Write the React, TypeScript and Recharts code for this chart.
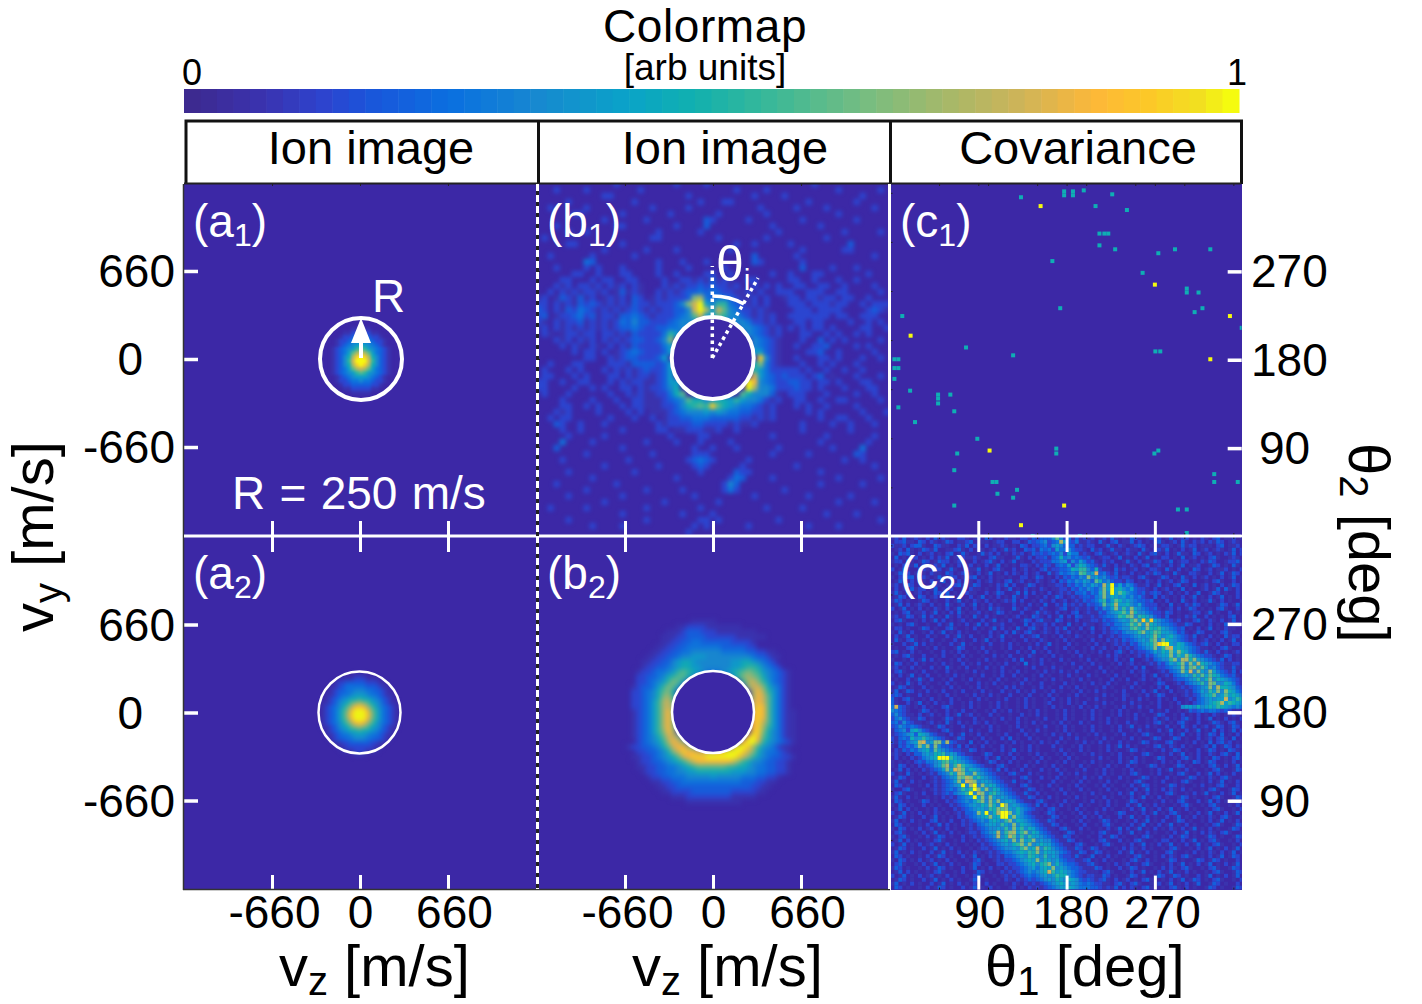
import React from "react";
import { BarChart, Bar, ScatterChart, Scatter, XAxis, YAxis } from "recharts";

const W = 1422;
const H = 1004;
const FONT = "'Liberation Sans', Arial, sans-serif";
const PANEL_BG = "#3c28a6";

// colormap
const CMAP_POS = [0, 0.07, 0.13, 0.17, 0.25, 0.33, 0.42, 0.48, 0.55, 0.65, 0.73, 0.8, 0.87, 0.92, 0.97, 1];
const CMAP_HEX = ["#3d2a90", "#3a33b0", "#2c45d0", "#1a55da", "#0a70e0", "#1788d0", "#0aa3c8", "#10b0b0", "#35b89a", "#78bd80", "#a8b868", "#d0b458", "#fdb838", "#fcc828", "#f2e020", "#f5fb0f"];
const BAR_LEVELS = Array.from({ length: 64 }, (_, i) => i / 63);

const VEL_TICKS = [-660, 0, 660];
const ANGLE_MAJOR = [90, 180, 270];
const ANGLE_MINOR = [50, 100, 150, 200, 250, 300, 350];

// grids below hold one hex digit per cell, 0..f is 0..1 on the colour bar
const A1_ROWS = [
  "00000011111000000",
  "00001122222110000",
  "00012233333221000",
  "00122344544322100",
  "00123456665432100",
  "01234568986543210",
  "0123469bcb9643210",
  "012357bef eb7532 10",
  "012358cfffc853210",
  "012357befeb753210",
  "0123469bcb9643210",
  "01234568986543210",
  "00123456665432100",
  "00122344544322100",
  "00012233333221000",
  "00001122222110000",
  "00000011111000000",
];

const A2_ROWS = [
  "000000000111000000000",
  "000000111222111000000",
  "000012233333222110000",
  "000112344444333211000",
  "000123344555443321000",
  "001123445666544321100",
  "001234567787765432100",
  "01123567 9ab a9765321 10",
  "0123457 9bdedb97543210",
  "012346 8adfffda8643210",
  "012346 8befffeb8643210",
  "012346 8adfffda8643210",
  "0123457 9bdedb97543210",
  "011235679aba976532110",
  "001234567787765432100",
  "001123445666544321100",
  "000123344555443321000",
  "000011223333322110000",
  "000001122222221100000",
  "000000111222111000000",
  "000000000111000000000",
];

const B1_ROWS = [
  "00000000000002000000000200002000000000000000002000000000000",
  "00020000200000000200000000000000020000200000000000200000020",
  "00000000000220000000000002000000000020000200000000000020000",
  "00000200000000002000000000020002200000000000020000000200000",
  "00200000200000000002000002000000000002000002000020000000200",
  "00000022000000200000002000000020000000200000000000200000000",
  "00000000000200000020000000003200000200000000200000000200000",
  "00020000000002200000000200003000000000020000000200000000000",
  "00000200200000000000200000020000000000002000000000020000020",
  "02000000000000000002200000000020000000200000000020000000000",
  "00000220000000200000000000000000020020000020000000003000000",
  "00000000000200000020000200000000200000000000200000022000000",
  "00200000020000002000000000000000000030000002000000000000200",
  "00000000430000000000200020002000000032000000200000000000000",
  "00020000202000200000" + "20000200000200000000" + "0000300002000200000",
  "00000022002000220000" + "20020000220020000002" + "0020002200000002000",
  "000022000202200220" + "00020022121312100220000" + "022002000200200000",
  "000212022120212021" + "00021212232322120020202" + "002200220020000200",
  "002021212212013121" + "00212123343432211202002" + "220022200220000020",
  "120132131201212032" + "01212223ab4344321120200" + "122022122022002000",
  "220212132321212132" + "2122235acf6588432120200" + "022202221220020222",
  "320213243212121232" + "1212233 5cfb6c95422121 00" + "002220222200002321",
  "230122342312213343" + "2122234 59c6698553212120" + "022222220220022200",
  "210212231212124353" + "32223455543033455422120" + "002202200002002020",
  "120212121212123343" + "22334454 00000000 5543212" + "020202202000022002",
  "021012212202212132" + "222486" + "00000000000" + "543212" + "000220020200202000",
  "000212021202121233" + "2235a" + "0000000000000" + "54321" + "000200302020000020",
  "000020210210202132" + "22246" + "0000000000000" + "54321" + "002002230000202000",
  "000000202202012343" + "22236" + "0000000000000" + "66321" + "000022300200000200",
  "000000002200212332" + "2236" + "000000000000000" + "e521" + "002000220200020020",
  "002000220000222133" + "33236" + "0000000000000" + "7a421" + "000200202000200000",
  "020002020002021212" + "32236" + "0000000000000" + "86422" + "222020020020020000",
  "022000202000220212" + "21236" + "0000000000000" + "c6432" + "322202301000200020",
  "220020022000202122" + "112366" + "00000000000" + "fd5432" + "233220220200022000",
  "220000200202002202" + "122357" + "00000000000" + "fb5542" + "223220200020002200",
  "020002000000200212" + "1122479" + "000000000" + "9755531" + "022200020000200200",
  "000020000200020022" + "11123459775677686554212" + "002200200220000020",
  "000022002020002022" + "11122357898e976544321 2" + "000202002000020000",
  "000212000020000202" + "01112345556565443322120" + "000020200000020002",
  "002022000000200020" + "02012233444333332212120" + "000000200220002000",
  "000320020002000000" + "00212222332222121120000" + "000200002002000200",
  "00002002000000200000" + "2201122211200200000000" + "00200000002000000",
  "00000200000200000000" + "0020000220000000000200" + "00000020000000200",
  "00004000020000000020" + "0002000200002000000000" + "00000200000002000",
  "00030000000000200000" + "0000002002000200000020" + "00000002000040000",
  "00000000200000000002" + "0000002220000000000200" + "00020000000320000",
  "00002000000000020000" + "0000023432000002000000" + "00000000020020000",
  "00000000000200000000" + "2000002320000020000000" + "02000000000000200",
  "00000200000000002000" + "0000000200000322000000" + "00000200000000000",
  "00000000020000000000" + "0002000000002430000200" + "00000000200000020",
  "00020000000002000000" + "0000000000025300000000" + "00000200000020000",
  "00000000200000000020" + "0000200000024200000002" + "00000000000000000",
  "00000200000000200000" + "0000002000000000200000" + "00020000002000000",
  "00000000000200000000" + "0200000000200000000000" + "00000000200000200",
  "00200000200000000020" + "0000000200000000002000" + "00200000000000000",
  "00000000000000200000" + "0000200002000000000000" + "00000020000200000",
  "00000200000000000020" + "0000000220200000000020" + "00000000000000020",
  "00000000020000200000" + "0000002020000002000000" + "00020000200000000",
  "00000000000000000000" + "0000020000000000000000" + "00000000000000000",
];

const B2_ROWS = [
  "0",
  "000000000000000" + "11111",
  "000000000000" + "1122221111111",
  "0000000000" + "111233322211111111",
  "000000000" + "111223333222222111111",
  "000000000" + "1122334433333322221",
  "00000000" + "11223344444443333322",
  "0000000" + "1122334455555544444332211",
  "000000" + "112233455666555555555433211",
  "00000" + "112233567765555555667765432",
  "00000" + "1223345677665555556678875432",
  "0000" + "12234456898765444567" + "89a98654" + "321",
  "0000" + "223345789975" + "0000000" + "68aba9754321",
  "0000" + "2234568a96" + "00000000000" + "8bca864321",
  "000" + "1233468a96" + "0000000000000" + "acca75421",
  "000" + "2234579a7" + "000000000000000" + "bdb86421",
  "000" + "223457ab8" + "000000000000000" + "bdc96421",
  "000" + "223468bc9" + "000000000000000" + "cdc96421",
  "000" + "223468bca" + "000000000000000" + "ced96421",
  "000" + "123468bda" + "000000000000000" + "ded964211",
  "000" + "123468bda" + "000000000000000" + "ded964211",
  "000" + "123468bda" + "000000000000000" + "dec964211",
  "000" + "123468bda" + "000000000000000" + "deb864211",
  "000" + "123468adb" + "000000000000000" + "eea754211",
  "000" + "1234579cca" + "0000000000000" + "dfd9754211",
  "0000" + "234568bdca" + "00000000000" + "dffc8654321",
  "00" + "12233457" + "9cddb9" + "0000000" + "cffeb86542110",
  "0000" + "2233457aceddccccdefffeca7544321",
  "000" + "1122345679cdeeeffffffeca865433221",
  "0000" + "1223345678acdddddddca8755433221",
  "0000" + "1122334456789999998877654433221",
  "00000" + "122334455667777777666554433221",
  "000000" + "122334445555565555544433221",
  "0000000" + "1122334444444444443332211",
  "00000000" + "11223333333333333332211",
  "000000000" + "112222333333332222211",
  "00000000000" + "11122222222211111",
  "00000000000000" + "11111111111",
  "0",
];

const C2_ROWS = [
  "1203012102 0312100221 0130320102 1102213233 3595241312 1201203101 0321012320 1301220102 1023011201",
  "0223110320 2101320112 3001101220 0220132345 234b632411 2103102301 1302010231 0120310212 0213201210",
  "2112023310 0321100213 0210201121 0103202234 2565333121 2200131021 0123201012 2101312201 1102301120",
  "0120310132 1300112310 2021012013 1200323143 4264453221 0312013110 2110310221 3010201301 2012101302",
  "1032310201 2010230131 0013120201 0212013232 3435264412 1023101201 2103102310 2013110320 1201021302",
  "0301022010 2021301121 1210023110 0131020223 1347453432 3101220130 1020130102 2010301201 0231001210",
  "1220310132 0132201210 0201231020 1301002122 2445625364 2310212001 3102011320 1301220102 1320012231",
  "0102213020 1213010201 2010201301 0102210213 2134362576 4321310201 0210230121 0201301120 0132010310",
  "2013100221 0320131002 1130102310 0201201023 1223347688 5372110312 0120102210 3102010320 1201120102",
  "0132201310 2110320120 1020130102 0210201200 3124345498 56c3421301 0201021320 1031002210 0201301320",
  "1020330221 0131132010 2301020110 1002201320 1021324354 a564532312 2102310013 2010310201 2010201301",
  "0131020210 2013010201 1020120102 3012010210 1203243546 5397453221 3201021020 1201320100 1023100201",
  "1201320100 0210102310 1320010213 0200132010 1122132435 4654b6f463 5421120130 1023010301 2010201320",
  "0201031220 1301020010 2110100201 3010201021 0112213243 5435a6f675 4632210201 2010301001 2013031020",
  "1310201201 0320301002 1100201320 0130302010 2012121334 2436a5f697 5432312320 1201020130 0132010020",
  "0132010320 1201320100 2013010201 0310200102 0132012123 3245a57656 4534210302 1010201301 0201301020",
  "1320100132 0100201301 0210201012 1302001021 0201201213 2346846975 6543323010 2010310201 1310201001",
  "0130201210 2010310120 1301020100 0201020103 0021312121 3234957b66 7546322201 0301021320 1001320130",
  "2013010201 0210201301 0201031210 0310210021 0012301211 2132546a58 5a65432310 1202013201 0102310020",
  "0102301120 1301020310 1120101320 1002001312 1020102301 2113245679 6b75543221 3201001220 1301002010",
  "1201320130 2010310201 0310201001 0120103210 2013020321 1212344587 9a58765321 3001021300 2010102301",
  "0231001020 1302010120 1002013010 2001320231 1032010201 1221323456 58a6e7e654 3212010231 0210201301",
  "1010231001 0020130102 0130201120 0100302112 0201030102 1101232445 697a6b7654 4321132001 0201031220",
  "0220100132 0100231001 0201013020 1031023102 1021301020 1301213345 58976a7786 5432301020 1301021100",
  "1031020010 2013010201 0010020102 0310231012 1020120101 0200212324 5568a67986 6542310132 0010231001",
  "0201301002 0100201310 2001020130 1002012301 0102010210 1102012123 3456567a75 6754321301 0201031220",
  "0310231010 2001002010 0201301020 0100201021 0010201001 0201021213 2345658a5a 7654321201 2010201301",
  "1002013020 1010020130 1001020010 2010010201 3010020100 1020101212 1324567aef f657643212 3102010220",
  "0100231001 0201001320 0102010010 2001020102 0010201001 0201201021 2123456a58 bc67654321 1010231001",
  "2301020100 1002010201 0010201001 0020103010 2010010201 0102010231 0212234657 6a6a764321 3102010120",
  "0102310020 0102001020 1001002010 2001021001 0201001020 1001020210 1012132456 6a586a7543 2210132010",
  "1001020130 2010010201 0010201001 0203001020 1002010010 2010010201 0300121345 58a5bb7a65 4321302010",
  "0320102010 0102010020 1020010102 0010401020 0100102001 0201001020 1201012132 4657a5a6b7 6543211220",
  "1201020100 2010310102 0010201020 0100102001 0201001020 1002010100 1020300122 3456a59a69 6453211310",
  "0231001020 0100201001 0201001020 1020100102 0102010201 0010201001 0201210012 1345a6c5a6 5a64321302",
  "1020130102 0010102010 0102001020 0201001020 1001020100 2010010201 0010201301 2134565869 6976432310",
  "0100201310 2001020010 2010010201 0010201001 0201001020 1001002010 2001201020 1123345685 7a57654321",
  "2010310201 0010201001 0020102010 0102010020 0100201001 0201020100 1020100132 0012134568 5a95576421",
  "0132010020 1001020100 1020100102 0201001020 1002010201 0010201001 0201001020 3001212345 6a5b776532",
  "1301320102 0102001020 0102010020 1020102001 0201001020 1020100102 0010201301 0201121346 586a5a7643",
  "2320100201 0010201001 0201020100 2001020010 2010010201 0010201002 1001020132 0010121235 6795696765",
  "3102310010 2010020100 1020100102 0010201001 0201020100 1020100102 0102010020 1020012134 56566c5687",
  "3100201301 0201020010 2010010201 0010201001 2001020102 0010201001 0201001020 0102010234 5678b68766",
  "4c32101020 1002310010 2010010201 0010201001 0201001020 1020100102 0102010020 0101566575 6768765454",
  "5432100132 0100201020 0100102010 2010010201 0010201001 0201001020 1001002010 2001013234 3443232110",
  "3532110201 2010201301 2010020100 1002010201 0010201001 0201001020 1020100132 0010201020 1021011210",
  "2453211320 1001320100 0201001020 1020100102 0010201001 0201020100 1020010201 2010231020 1301020102",
  "3425321101 2010310201 0210201001 0020102010 0102010020 1001020100 2010010231 0102310020 0132102310",
  "2354343211 0132010020 1001020100 1020100102 0010201001 0201001020 1301020100 2010310201 2013201320",
  "1345267532 1102310010 2010020100 1002010201 0010201001 0201001020 0102010020 1301020130 1030201302",
  "1234563765 3211020130 1020100102 0010201001 0201020100 1020100102 0010231001 0201301020 1320301020",
  "2134375686 5432101320 0102010020 3010020100 1002010201 0010201001 0201001320 0132010020 1202310301",
  "2132456bc5 6aa4b32110 3010201001 0201001020 1020100102 0102010020 1001320100 2310010201 0302312010",
  "1032435a6a 4a53321302 0102010020 1001020100 0201001020 1001020130 2010010231 0210201001 2030132021",
  "0213243567 4965432211 3201001020 1301020100 0102010020 1001020100 1320100102 0132010020 1320103210",
  "1210213356 5778565321 1001320010 2010010201 0010201001 0201001020 0100231001 0201301020 0210231030",
  "0201021245 67fff86543 2110201301 0201001020 1001020100 0102010020 1020100132 0010231020 1032010231",
  "1010102324 4568967654 3210132010 2010010201 0010201001 0201001020 1320100102 0102010320 1320010201",
  "1032010212 3569b58b86 5432110231 0010201001 0201001020 1001020100 2010013201 0013201001 0231020130",
  "0130201021 2346a6cb95 7654321302 0102010020 1020100102 0010201001 0201001020 1301020100 1023100132",
  "2010310101 2134586ba6 5a65432110 2310020100 1002010201 0010201001 0231001020 0102310020 1302010201",
  "0132010020 1213456a9b a686543211 0102310020 1020100102 0102010020 1001320100 2010013201 0210231001",
  "1301020100 1212346a5c ba56654321 1301020100 0201001020 1001020100 1023100102 0010231001 0201301020",
  "0320100102 02123456f5 bf5a676432 1102310010 2010010201 0010201001 0201320100 1320100102 0102310020",
  "1002310010 1212343586 8fa6a57643 2110132010 0102010020 1001020100 1020130102 0210201001 0231001320",
  "0231001020 0212324568 f5ba578654 3211310201 0010201001 0201001020 1301020100 2310010201 3010201301",
  "1310201001 0102121345 6f6a5a6565 4321132010 2010010201 0010201001 0201301020 1001320100 1023100132",
  "0320100132 0100212345 468a5a6a56 6532110231 0010201001 0201020100 1320100102 0102310020 1302010201",
  "1032010020 1010021234 56576a75fa 5654321302 0102010020 1001020100 2013010201 0010231001 0231001020",
  "0130201001 0201002123 4566587a9a 6575432110 2310010201 0010201001 0201301020 1301020100 1023100102",
  "2013010201 0210101213 34a6f57bff a575321101 3201001020 1020100132 0010201301 0231001020 1301020130",
  "0132010020 1301010212 34567a67ff 6a65432110 1320100102 0102010020 1301020100 2013010201 0210231001",
  "1301020100 2301020021 2345467658 a576543211 3201001020 1001320100 1020130102 0013201001 0201301020",
  "0320100102 0130201021 2134566586 5a57654321 1320100102 0010231001 0201301020 1301020100 1023100132",
  "1032010201 2010201001 2123455658 5a68576432 1102310020 1001020130 2013010201 0210201301 0201001320",
  "0231001020 1301020101 2213456b58 ab68a57643 2110132010 0102310020 1301020100 1020130102 0210231001",
  "1023100102 0132010020 1212345b57 b958586654 3211320100 1002013201 0010231001 0201320100 1320100132",
  "0130201001 0231001020 1021234567 5a5a67a565 5321132010 0102310020 1023100102 2010201301 0231001020",
  "2013010201 2010201001 0102123456 578a6a5676 6432110231 0010231001 0201301020 1301020130 1023100102",
  "0132010020 1301020100 1012212345 5658a67b58 7543211320 1320100102 0210201001 0231001020 1301020130",
  "1301020100 2013010201 0210121234 4567687a57 6654321132 0132010020 1301020100 2310010201 0210201301",
  "0320100102 0132010020 1301021213 3456587658 5653221310 1301020100 1023100102 0210231001 0201301320",
  "1032010201 2010201001 0231001212 2345676a57 6564322112 3010201001 0231020100 1320100132 0132010020",
  "0231001020 1301020100 1320100221 2234567578 a575433211 2310010201 2010231001 0201301020 1301020130",
  "1320100102 0132010020 1301020102 1223456467 6a56543321 1132010020 1320100102 0210231001 0231001320",
  "0130201001 0231001020 0132010021 2123454567 c867654322 1110231001 0201301020 1301020100 1023100132",
  "2013010201 2010201001 0231001012 1212343456 5687754321 2211320100 1320100132 0132010020 1301020130",
  "0132010020 1301020100 1320100102 1021232345 6576576532 3212310201 2010231001 0201301320 1023100102",
  "1301020100 2013010201 0210201001 0210212123 4567656543 4322110231 0231001020 1301020130 0132010020",
  "0320100102 0132010020 1301020100 1201021212 3456676544 4332121302 0210231001 0231020100 1320100132",
];

// sparse covariance events, one list per colour
const C1_TEAL_T1 = [133, 177, 177, 186, 186, 197, 209, 226, 241, 213, 218, 222, 213, 229, 273, 290, 326, 165, 257, 302, 302, 314, 318, 310, 173, 12, 77, 125, 358, 270, 275, 4, 8, 4, 8, 4, 20, 48.5, 48.5, 48.5, 61, 65, 8, 25, 88.5, 68, 169, 169, 273, 269, 65, 104, 108, 109, 129, 125, 65, 330, 330, 354, 293, 302, 302, 145, 193];
const C1_TEAL_T2 = [346, 352, 348, 352, 348, 353, 337, 349, 333, 309, 309, 309, 297, 293, 289, 293, 293, 281, 269, 253, 249, 249, 233, 229, 233, 225, 193, 185, 213, 189, 189, 181, 181, 172, 172, 161, 149, 145, 141, 136, 145, 128, 132, 117, 100, 85, 90, 85, 88, 85, 68, 56, 56, 44, 48, 40, 32, 64, 56, 56, 28, 28, 4, 1, 1];
const C1_PEAK_T1 = [153, 269.5, 346, 20.5, 326, 101, 177, 133];
const C1_PEAK_T2 = [337, 257, 225, 205, 181, 88, 32, 12];

const toCells = (rows: string[], x0: number, y0: number, step: number) => {
  const out: { x: number; y: number; v: number }[] = [];
  rows.forEach((row, r) => {
    const clean = row.replace(/ /g, "");
    for (let c = 0; c < clean.length; c++) {
      const d = parseInt(clean[c], 16);
      if (d > 0) out.push({ x: x0 + c * step, y: y0 - r * step, v: d / 15 });
    }
  });
  return out;
};

const c1Cells = [
  ...C1_TEAL_T1.map((x, i) => ({ x, y: C1_TEAL_T2[i], v: 0.47 })),
  ...C1_PEAK_T1.map((x, i) => ({ x, y: C1_PEAK_T2[i], v: 1 })),
];

const hexToRgb = (h: string) => [1, 3, 5].map((i) => parseInt(h.slice(i, i + 2), 16));
const colorOf = (v: number) => {
  let i = 0;
  while (i < CMAP_POS.length - 2 && v > CMAP_POS[i + 1]) i++;
  const t = Math.min(1, (v - CMAP_POS[i]) / (CMAP_POS[i + 1] - CMAP_POS[i]));
  const a = hexToRgb(CMAP_HEX[i]);
  const b = hexToRgb(CMAP_HEX[i + 1]);
  return `rgb(${a.map((n, k) => Math.round(n + (b[k] - n) * t)).join(",")})`;
};

interface Box {
  l: number;
  r: number;
  t: number;
  b: number;
}

interface PanelProps {
  box: Box;
  xDomain: number[];
  yDomain: number[];
  cells: { x: number; y: number; v: number }[];
  cellW: number;
  cellH: number;
  blur?: number;
  xMajor: number[];
  yMajor: number[];
  minor?: number[];
  xLabels?: boolean;
  topWhite?: boolean;
  side: "left" | "right" | "none";
  sideLabels?: boolean;
}

const X_LABEL_DX: Record<number, number> = { [-660]: 2, 0: 0, 660: 6, 90: 1, 180: 4, 270: 7 };

const HeatPanel = (p: PanelProps) => {
  const { box } = p;
  const xTicks = [...p.xMajor, ...(p.minor || [])];
  const yTicks = [...p.yMajor, ...(p.minor || [])];

  const renderXTick = (t: any) => {
    const v = t.payload.value;
    const major = p.xMajor.includes(v);
    return (
      <g key={`x-${v}`}>
        {major ? (
          <line x1={t.x} x2={t.x} y1={box.b} y2={box.b - 14} stroke="#fff" strokeWidth={3} />
        ) : (
          <line x1={t.x} x2={t.x} y1={box.b} y2={box.b - 2} stroke="#222" strokeWidth={1} />
        )}
        {major && p.topWhite ? (
          <line x1={t.x} x2={t.x} y1={box.t} y2={box.t + 15} stroke="#fff" strokeWidth={3} />
        ) : (
          <line x1={t.x} x2={t.x} y1={box.t} y2={box.t + 2} stroke="#222" strokeWidth={1} />
        )}
        {major && p.xLabels && (
          <text x={t.x + (X_LABEL_DX[v] || 0)} y={928} textAnchor="middle" fontSize={46} fontFamily={FONT} fill="#000">
            {v}
          </text>
        )}
      </g>
    );
  };

  const renderYTick = (t: any) => {
    const v = t.payload.value;
    const major = p.yMajor.includes(v);
    const edge = p.side === "right" ? box.r : box.l;
    const dir = p.side === "right" ? -1 : 1;
    return (
      <g key={`y-${v}`}>
        {major && p.side !== "none" ? (
          <line x1={edge} x2={edge + dir * 14} y1={t.y} y2={t.y} stroke="#fff" strokeWidth={3.5} />
        ) : (
          <line x1={box.l} x2={box.l + 2} y1={t.y} y2={t.y} stroke="#222" strokeWidth={1} />
        )}
        {major && p.sideLabels && p.side === "left" && (
          <text x={v === 0 ? 143 : 175} y={t.y + 15.5} textAnchor="end" fontSize={46} fontFamily={FONT} fill="#000">
            {v}
          </text>
        )}
        {major && p.sideLabels && p.side === "right" && (
          <text x={v === 90 ? 1259 : 1251} y={t.y + 15.5} textAnchor="start" fontSize={46} fontFamily={FONT} fill="#000">
            {v}
          </text>
        )}
      </g>
    );
  };

  return (
    <div className={p.blur ? `soft${p.blur * 10}` : undefined} style={{ position: "absolute", left: 0, top: 0 }}>
      <ScatterChart
        width={W}
        height={H}
        margin={{ left: box.l - 1, right: W - box.r, top: box.t, bottom: H - box.b - 1 }}
      >
        <Scatter
          data={p.cells}
          isAnimationActive={false}
          shape={(s: any) => (
            <rect
              x={s.cx - p.cellW / 2}
              y={s.cy - p.cellH / 2}
              width={p.cellW}
              height={p.cellH}
              fill={colorOf(s.payload ? s.payload.v : s.v)}
            />
          )}
        />
        <XAxis
          type="number"
          dataKey="x"
          domain={p.xDomain}
          ticks={xTicks}
          interval={0}
          height={1}
          axisLine={false}
          tickLine={false}
          allowDataOverflow
          tick={renderXTick}
        />
        <YAxis
          type="number"
          dataKey="y"
          domain={p.yDomain}
          ticks={yTicks}
          interval={0}
          width={1}
          axisLine={false}
          tickLine={false}
          allowDataOverflow
          tick={renderYTick}
        />
      </ScatterChart>
    </div>
  );
};

const BOXES: Record<string, Box> = {
  a1: { l: 184, r: 537, t: 184, b: 535 },
  b1: { l: 538, r: 889, t: 184, b: 535 },
  c1: { l: 890.5, r: 1241.7, t: 184, b: 535 },
  a2: { l: 184, r: 537, t: 537, b: 889 },
  b2: { l: 538, r: 889, t: 537, b: 889 },
  c2: { l: 890.5, r: 1241.7, t: 537, b: 889.6 },
};

const PanelLabel = ({ x, y, name, sub }: { x: number; y: number; name: string; sub: string }) => (
  <text x={x} y={y} fontSize={46} fill="#fff" fontFamily={FONT}>
    ({name}
    <tspan fontSize={32} dy={9}>
      {sub}
    </tspan>
    <tspan dy={-9}>)</tspan>
  </text>
);

const Overlay = () => (
  <svg width={W} height={H} style={{ position: "absolute", left: 0, top: 0 }}>
    {/* colour bar labels */}
    <text x={705} y={42} textAnchor="middle" fontSize={46} letterSpacing={0.6} fontFamily={FONT}>Colormap</text>
    <text x={705} y={80} textAnchor="middle" fontSize={37} fontFamily={FONT}>[arb units]</text>
    <text x={182} y={85} fontSize={36} fontFamily={FONT}>0</text>
    <text x={1227} y={85} fontSize={36} fontFamily={FONT}>1</text>

    {/* title strip */}
    <text x={371} y={164} textAnchor="middle" fontSize={47} fontFamily={FONT}>Ion image</text>
    <text x={725} y={164} textAnchor="middle" fontSize={47} fontFamily={FONT}>Ion image</text>
    <text x={1078} y={164} textAnchor="middle" fontSize={47} fontFamily={FONT}>Covariance</text>
    <path d="M186 184 V121 H1241.5 V184 M538.5 121 V184 M890.5 121 V184" fill="none" stroke="#111" strokeWidth={3} />
    <line x1={184} x2={1241} y1={183.5} y2={183.5} stroke="#222" strokeWidth={2} />

    {/* frame and dividers */}
    <line x1={183.5} x2={183.5} y1={184} y2={890} stroke="#333" strokeWidth={1.5} />
    <line x1={183} x2={890} y1={889.5} y2={889.5} stroke="#333" strokeWidth={1.5} />
    <line x1={184} x2={1241.7} y1={536} y2={536} stroke="#fff" strokeWidth={3} />
    <line x1={889.5} x2={889.5} y1={184} y2={889} stroke="#fff" strokeWidth={3} />
    <line x1={537.5} x2={537.5} y1={184} y2={889} stroke="#222" strokeWidth={3} />
    <line x1={537.5} x2={537.5} y1={184} y2={889} stroke="#fff" strokeWidth={3} strokeDasharray="7 4" />

    <PanelLabel x={193} y={237} name="a" sub="1" />
    <PanelLabel x={547} y={237} name="b" sub="1" />
    <PanelLabel x={900} y={237} name="c" sub="1" />
    <PanelLabel x={193} y={589} name="a" sub="2" />
    <PanelLabel x={547} y={589} name="b" sub="2" />
    <PanelLabel x={900} y={589} name="c" sub="2" />

    {/* a1 circle and R arrow */}
    <circle cx={361} cy={359} r={41} fill="none" stroke="#fff" strokeWidth={4} />
    <line x1={361} x2={361} y1={358} y2={340} stroke="#fff" strokeWidth={4} />
    <polygon points="361,318 351,343 371,343" fill="#fff" />
    <text x={372} y={312} fontSize={46} fill="#fff" fontFamily={FONT}>R</text>
    <text x={232} y={509} fontSize={46} fill="#fff" fontFamily={FONT} wordSpacing={1.5}>R = 250 m/s</text>

    {/* b1 circle and angle */}
    <circle cx={712.7} cy={358} r={41} fill={PANEL_BG} stroke="#fff" strokeWidth={4} />
    <line x1={712.3} x2={712.3} y1={358} y2={266} stroke="#fff" strokeWidth={3.5} strokeDasharray="3.5 3.5" />
    <line x1={712.3} x2={758} y1={358} y2={278} stroke="#fff" strokeWidth={3.5} strokeDasharray="3.5 3.5" />
    <path d="M712.3 296 Q730 296 744 304" fill="none" stroke="#fff" strokeWidth={3.5} />
    <text x={716} y={281} fontSize={50} fill="#fff" fontFamily={FONT}>
      θ
      <tspan fontSize={30} dy={9}>i</tspan>
    </text>

    {/* a2 and b2 circles */}
    <circle cx={359.5} cy={712.5} r={41} fill="none" stroke="#fff" strokeWidth={2.5} />
    <circle cx={713} cy={712} r={41} fill={PANEL_BG} stroke="#fff" strokeWidth={2.5} />

    {/* axis titles */}
    <text transform="translate(53,632) rotate(-90)" fontSize={58} fontFamily={FONT}>
      v<tspan fontSize={40} dy={9}>y</tspan>
      <tspan dy={-9}> [m/s]</tspan>
    </text>
    <text x={279} y={986} fontSize={58} fontFamily={FONT}>
      v<tspan fontSize={40} dy={9}>z</tspan>
      <tspan dy={-9}> [m/s]</tspan>
    </text>
    <text x={632} y={986} fontSize={58} fontFamily={FONT}>
      v<tspan fontSize={40} dy={9}>z</tspan>
      <tspan dy={-9}> [m/s]</tspan>
    </text>
    <text x={985} y={986} fontSize={58} fontFamily={FONT}>
      θ<tspan fontSize={40} dy={9}>1</tspan>
      <tspan dy={-9}> [deg]</tspan>
    </text>
    <text transform="translate(1349,443) rotate(90)" fontSize={58} fontFamily={FONT}>
      θ<tspan fontSize={40} dy={9}>2</tspan>
      <tspan dy={-9}> [deg]</tspan>
    </text>
  </svg>
);

const ColorBar = () => (
  <div style={{ position: "absolute", left: 0, top: 0 }}>
    <BarChart
      width={W}
      height={H}
      data={BAR_LEVELS.map((level) => ({ level, value: 1 }))}
      margin={{ left: 184, right: W - 1239, top: 89, bottom: H - 113 }}
      barCategoryGap={0}
    >
      <XAxis dataKey="level" hide />
      <YAxis domain={[0, 1]} hide />
      <Bar
        dataKey="value"
        isAnimationActive={false}
        shape={(s: any) => (
          <rect x={s.x} y={s.y} width={s.width + 1} height={s.height} fill={colorOf(s.payload ? s.payload.level : s.level)} />
        )}
      />
    </BarChart>
  </div>
);

const VEL_DOMAIN_X = [-1324, 1324];
const VEL_DOMAIN_Y = [-1316, 1316];
const VEL_DOMAIN_Y2 = [-1320, 1320];
const VEL_DOMAIN_XB = [-1316, 1316];

export default function App() {
  return (
    <div style={{ position: "absolute", left: 0, top: 0, width: W, height: H, background: "#fff", overflow: "hidden" }}>
      <style>{`
        .soft15 .recharts-scatter { filter: blur(1.5px); }
        .soft20 .recharts-scatter { filter: blur(2px); }
        .soft25 .recharts-scatter { filter: blur(2.5px); }
      `}</style>
      {Object.values(BOXES).map((b, i) => (
        <div
          key={i}
          style={{ position: "absolute", left: b.l, top: b.t, width: b.r - b.l, height: b.b - b.t, background: PANEL_BG }}
        />
      ))}
      <ColorBar />
      <HeatPanel box={BOXES.a1} xDomain={VEL_DOMAIN_X} yDomain={VEL_DOMAIN_Y} cells={toCells(A1_ROWS, -236, 229, 30)} cellW={4.2} cellH={4.2} blur={1.5} xMajor={VEL_TICKS} yMajor={VEL_TICKS} side="left" sideLabels />
      <HeatPanel box={BOXES.b1} xDomain={VEL_DOMAIN_XB} yDomain={VEL_DOMAIN_Y} cells={toCells(B1_ROWS, -1311, 1316, 45)} cellW={6.2} cellH={6.2} blur={2} xMajor={VEL_TICKS} yMajor={VEL_TICKS} side="none" />
      <HeatPanel box={BOXES.c1} xDomain={[0, 358]} yDomain={[2, 359.5]} cells={c1Cells} cellW={4} cellH={4} xMajor={ANGLE_MAJOR} yMajor={ANGLE_MAJOR} minor={ANGLE_MINOR} side="right" sideLabels />
      <HeatPanel box={BOXES.a2} xDomain={VEL_DOMAIN_X} yDomain={VEL_DOMAIN_Y2} cells={toCells(A2_ROWS, -307, 285, 30)} cellW={4.2} cellH={4.2} blur={2} xMajor={VEL_TICKS} yMajor={VEL_TICKS} side="left" sideLabels xLabels topWhite />
      <HeatPanel box={BOXES.b2} xDomain={VEL_DOMAIN_XB} yDomain={VEL_DOMAIN_Y2} cells={toCells(B2_ROWS, -712.5, 720, 37.5)} cellW={5.2} cellH={5.2} blur={2.5} xMajor={VEL_TICKS} yMajor={VEL_TICKS} side="none" xLabels topWhite />
      <HeatPanel box={BOXES.c2} xDomain={[0, 358]} yDomain={[0, 359]} cells={toCells(C2_ROWS, 2, 358, 4)} cellW={4} cellH={4} xMajor={ANGLE_MAJOR} yMajor={ANGLE_MAJOR} minor={ANGLE_MINOR} side="right" sideLabels xLabels topWhite />
      <Overlay />
    </div>
  );
}
